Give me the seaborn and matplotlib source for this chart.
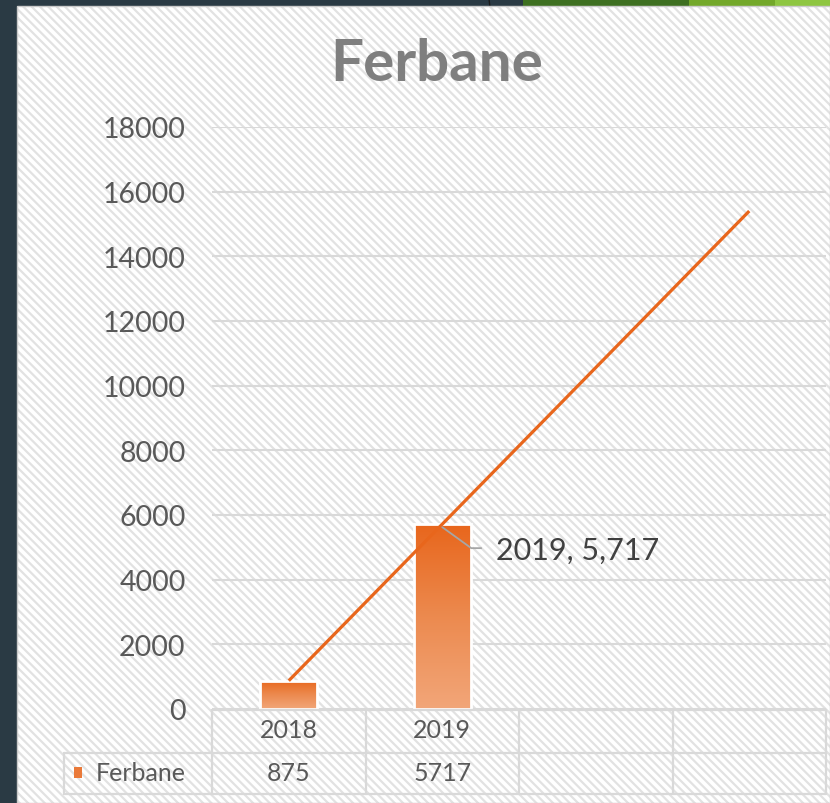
import numpy as np
import pandas as pd
import seaborn as sns
import matplotlib
matplotlib.use("Agg")
import matplotlib.pyplot as plt
from matplotlib.patches import Rectangle
from matplotlib.lines import Line2D
from matplotlib.colors import LinearSegmentedColormap
from matplotlib.transforms import IdentityTransform

# ---- data ----
years = ["2018", "2019"]
values = [875, 5717]
series_name = "Ferbane"
n_slots = 4
yticks = list(range(0, 18001, 2000))
label_index = 1

sns.set_theme(style="white")
plt.rcParams['font.family'] = ['Lato', 'DejaVu Sans']
plt.rcParams['hatch.linewidth'] = 1.6

W, H = 830, 804
fig = plt.figure(figsize=(W / 100, H / 100), dpi=100)
fig.patch.set_facecolor('#2a3a44')


def fx(px):
    return px / W


def fy(py):
    return 1 - py / H


# top decorations
for x0, x1, c in [(523, 689, '#3e7021'), (689, 775, '#73a82a'), (775, 830, '#8ec641')]:
    fig.patches.append(Rectangle((fx(x0), fy(8)), fx(x1) - fx(x0), 8 / H,
                                 transform=fig.transFigure, facecolor=c, edgecolor='none',
                                 zorder=-10))
fig.add_artist(Line2D([fx(489), fx(490)], [1, fy(8)], transform=fig.transFigure,
                      color='#1b1b1b', lw=1, zorder=-10))

# hatched panel
fig.patches.append(Rectangle((fx(17), 0), 1 - fx(17), fy(7), transform=fig.transFigure,
                             facecolor='white', edgecolor='#e2e2e2', hatch='\\\\\\\\',
                             linewidth=0, zorder=-10))
fig.patches.append(Rectangle((fx(17), 0), 1 - fx(17), fy(7), transform=fig.transFigure,
                             facecolor='none', edgecolor='#c9c9c9', linewidth=1, zorder=-9))

ax = fig.add_axes([fx(212), fy(710), fx(826) - fx(212), (710 - 128) / H])
ax.set_facecolor('none')

df = pd.DataFrame({'year': years, 'value': values})
sns.barplot(data=df, x='year', y='value', order=years, width=0.37, ax=ax,
            color='#e8681f', saturation=1, zorder=2)

cmap = LinearSegmentedColormap.from_list('og', ['#f2a679', '#ec8a4f', '#e8661c'])
grad = np.linspace(0, 1, 256).reshape(-1, 1)
for p in list(ax.patches):
    x0, y0, w, h = p.get_x(), p.get_y(), p.get_width(), p.get_height()
    im = ax.imshow(grad, extent=[x0, x0 + w, y0, y0 + h], origin='lower', cmap=cmap,
                   aspect='auto', zorder=2, interpolation='bilinear')
    im.set_clip_path(p)
    p.set_facecolor('none')
    p.set_edgecolor('white')
    p.set_linewidth(2)
    p.set_zorder(3)

ax.set_xlim(-0.5, n_slots - 0.5)
ax.set_ylim(0, 18000)

# linear trendline (forecast forward)
coeffs = np.polyfit(np.arange(len(values)), values, 1)
xs = np.arange(n_slots)
ax.plot(xs, np.polyval(coeffs, xs), color='#e8661c', lw=2.3, zorder=4,
        solid_capstyle='butt')

ax.set_yticks(yticks)
ax.set_yticklabels([str(v) for v in yticks], fontsize=20.5, color='#595959')
ax.tick_params(axis='y', length=0, pad=19)
ax.set_xticks([])
ax.set_xlabel('')
ax.set_ylabel('')
ax.yaxis.grid(True, color='#d9d9d9', lw=1.5)
ax.set_axisbelow(True)
for s in ax.spines.values():
    s.set_visible(False)

# title
fig.text(fx(437), fy(81), series_name, ha='center', va='baseline', fontsize=42,
         fontweight='bold', color='#7f7f7f')

# data label with leader line
fig.canvas.draw()
bx, by = ax.transData.transform((label_index, values[label_index]))
ax.add_line(Line2D([bx, bx + 29, bx + 39], [by - 3, by - 24, by - 24],
                   transform=IdentityTransform(), color='#a6a6a6', lw=1.3,
                   clip_on=False, zorder=5))
ax.annotate(f"{years[label_index]}, {values[label_index]:,}",
            xy=(label_index, values[label_index]), xytext=(54, -35),
            textcoords='offset pixels', ha='left', va='baseline', fontsize=22,
            color='#404040', zorder=5)

# data table
tcol = '#d9d9d9'
col_edges = [ax.transData.transform((i - 0.5, 0))[0] for i in range(n_slots + 1)]
left_edge = 64
y_top, y_mid, y_bot = 711, 754, 795
lines = [
    ([col_edges[0], col_edges[-1]], [y_top, y_top]),
    ([left_edge, col_edges[-1]], [y_mid, y_mid]),
    ([left_edge, col_edges[-1]], [y_bot, y_bot]),
    ([left_edge, left_edge], [y_mid, y_bot]),
]
for cx in col_edges:
    lines.append(([cx, cx], [y_top, y_bot]))
for lx, ly in lines:
    fig.add_artist(Line2D([fx(v) for v in lx], [fy(v) for v in ly],
                          transform=fig.transFigure, color=tcol, lw=1.6))

for i, (yr, v) in enumerate(zip(years, values)):
    cx = ax.transData.transform((i, 0))[0]
    fig.text(fx(cx), fy(731), yr, ha='center', va='center', fontsize=18, color='#595959')
    fig.text(fx(cx), fy(774), str(v), ha='center', va='center', fontsize=18, color='#595959')

fig.patches.append(Rectangle((fx(74), fy(779)), 8 / W, 11 / H, transform=fig.transFigure,
                             facecolor='#ea7a3a', edgecolor='none'))
fig.text(fx(96), fy(774), series_name, ha='left', va='center', fontsize=18, color='#595959')

fig.savefig('out.png', dpi=100, facecolor=fig.get_facecolor())
